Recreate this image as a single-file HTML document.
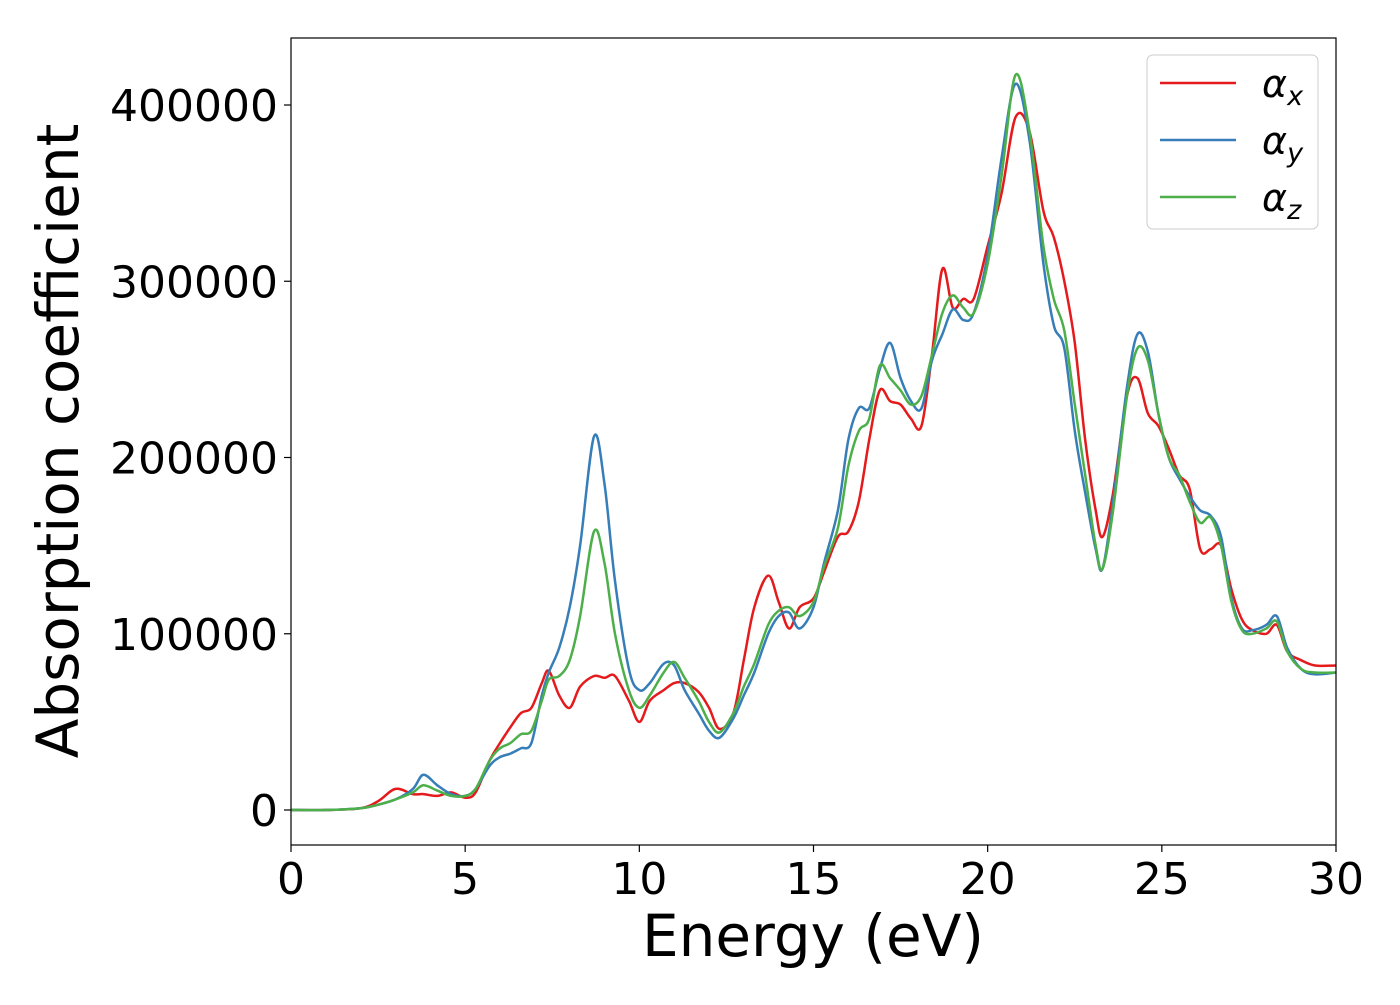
<!DOCTYPE html>
<html><head><meta charset="utf-8"><style>
body{margin:0;background:#fff}
svg text{font-family:"DejaVu Sans","Liberation Sans",sans-serif;fill:#000}
</style></head><body>
<svg id="chart" width="1400" height="1000" viewBox="0 0 1400 1000" xmlns="http://www.w3.org/2000/svg">
<rect x="0" y="0" width="1400" height="1000" fill="#fff"/>
<g id="series"></g>
<rect x="291" y="38" width="1045" height="807" fill="none" stroke="#000" stroke-width="1.2"/>
<g id="xticks"></g><g id="yticks"></g>
<text x="813" y="956" font-size="58" text-anchor="middle">Energy (eV)</text>
<text transform="translate(78,441) rotate(-90)" font-size="58" text-anchor="middle">Absorption coefficient</text>
<g>
<rect x="1147" y="55" width="171" height="174" rx="6" fill="#fff" fill-opacity="0.8" stroke="#ccc" stroke-width="1"/>
<g><line x1="1160" y1="83" x2="1236" y2="83" stroke="#e41a1c" stroke-width="2.5"/><text x="1262" y="97" font-size="38" font-style="italic">α<tspan font-size="27" dy="8">x</tspan></text></g>
<g><line x1="1160" y1="140" x2="1236" y2="140" stroke="#377eb8" stroke-width="2.5"/><text x="1262" y="154" font-size="38" font-style="italic">α<tspan font-size="27" dy="8">y</tspan></text></g>
<g><line x1="1160" y1="197" x2="1236" y2="197" stroke="#4daf4a" stroke-width="2.5"/><text x="1262" y="211" font-size="38" font-style="italic">α<tspan font-size="27" dy="8">z</tspan></text></g>
</g>
</svg>
<script>
const energies=[0,1,2,2.5,3,3.5,3.8,4.2,4.6,5,5.3,5.7,6,6.3,6.6,6.9,7.2,7.4,7.7,8,8.3,8.7,9,9.3,9.7,10,10.3,10.7,11,11.3,11.7,12,12.3,12.7,13,13.3,13.7,14,14.3,14.6,15,15.3,15.7,16,16.3,16.6,16.9,17.2,17.5,17.8,18.1,18.4,18.7,19,19.3,19.6,20,20.4,20.8,21.2,21.6,21.9,22.2,22.5,22.8,23.1,23.3,23.6,24,24.3,24.6,24.9,25.2,25.5,25.8,26.1,26.4,26.7,27,27.3,27.6,28,28.3,28.6,29,29.4,30];
const alphaX=[0,0,1,5,12,9,9,8,10,7,10,28,38,47,55,58,72,79,65,58,70,76,75,76,62,50,62,68,72,72,67,58,46,55,85,115,133,118,103,115,120,135,155,158,175,210,238,232,230,222,218,258,307,285,290,290,320,350,393,385,340,325,300,265,210,170,155,180,235,245,225,218,205,190,182,148,148,150,125,108,102,100,105,90,85,82,82];
const alphaY=[0,0,1,3,6,12,20,14,9,8,12,25,30,32,35,38,65,78,92,115,150,212,185,130,80,68,72,83,82,68,55,45,41,52,65,78,100,110,112,103,115,140,170,210,228,228,250,265,245,232,228,255,270,284,278,282,315,370,412,380,310,275,262,215,180,148,137,175,240,270,260,225,200,188,178,170,167,155,120,103,102,105,110,92,80,77,78];
const alphaZ=[0,0,1,3,6,10,14,11,8,8,12,28,35,38,43,45,62,74,76,85,110,158,140,100,68,58,65,78,84,75,62,50,44,55,70,83,105,113,115,110,118,138,160,195,215,222,252,245,238,230,235,258,282,292,285,282,310,360,417,385,320,290,272,230,190,150,137,170,235,262,255,225,200,190,175,163,166,150,118,102,100,103,107,90,80,78,78];
const xTickLabels=["0","5","10","15","20","25","30"];
const yTickLabels=["0","100000","200000","300000","400000"];
const X0=291,X1=1336,XMIN=0,XMAX=30;
const Y0=810,PXPER=1.7625; // px per 1000
function xs(e){return X0+(e-XMIN)/(XMAX-XMIN)*(X1-X0);}
function ys(v){return Y0-v*PXPER;}
const NS="http://www.w3.org/2000/svg";
function smooth(pts){
  let d="M"+pts[0][0].toFixed(1)+","+pts[0][1].toFixed(1);
  for(let i=0;i<pts.length-1;i++){
    const p0=pts[i-1]||pts[i],p1=pts[i],p2=pts[i+1],p3=pts[i+2]||p2;
    const c1=[p1[0]+(p2[0]-p0[0])/6,p1[1]+(p2[1]-p0[1])/6];
    const c2=[p2[0]-(p3[0]-p1[0])/6,p2[1]-(p3[1]-p1[1])/6];
    d+="C"+c1[0].toFixed(1)+","+c1[1].toFixed(1)+" "+c2[0].toFixed(1)+","+c2[1].toFixed(1)+" "+p2[0].toFixed(1)+","+p2[1].toFixed(1);
  }
  return d;
}
const g=document.getElementById("series");
[[alphaX,"#e41a1c","alpha-x"],[alphaY,"#377eb8","alpha-y"],[alphaZ,"#4daf4a","alpha-z"]].forEach(([vals,col,nm])=>{
  const p=document.createElementNS(NS,"path");
  
  
  p.setAttribute("d",smooth(energies.map((e,i)=>[xs(e),ys(vals[i])])));
  p.setAttribute("fill","none");p.setAttribute("stroke",col);p.setAttribute("stroke-width","2.5");
  g.appendChild(p);
});
const xt=document.getElementById("xticks");
xTickLabels.forEach(l=>{
  const x=xs(parseFloat(l));
  const ln=document.createElementNS(NS,"line");
  
  
  ln.setAttribute("x1",x);ln.setAttribute("x2",x);ln.setAttribute("y1",845);ln.setAttribute("y2",852);ln.setAttribute("stroke","#000");ln.setAttribute("stroke-width","1.2");
  xt.appendChild(ln);
  const t=document.createElementNS(NS,"text");
  
  
  t.setAttribute("x",x);t.setAttribute("y",894);t.setAttribute("font-size","44");t.setAttribute("text-anchor","middle");
  t.textContent=l;xt.appendChild(t);
});
const yt=document.getElementById("yticks");
yTickLabels.forEach(l=>{
  const y=ys(parseFloat(l)/1000);
  const ln=document.createElementNS(NS,"line");
  
  
  ln.setAttribute("x1",284);ln.setAttribute("x2",291);ln.setAttribute("y1",y);ln.setAttribute("y2",y);ln.setAttribute("stroke","#000");ln.setAttribute("stroke-width","1.2");
  yt.appendChild(ln);
  const t=document.createElementNS(NS,"text");
  
  
  t.setAttribute("x",278);t.setAttribute("y",y+16);t.setAttribute("font-size","44");t.setAttribute("text-anchor","end");
  t.textContent=l;yt.appendChild(t);
});
</script>
</body></html>
